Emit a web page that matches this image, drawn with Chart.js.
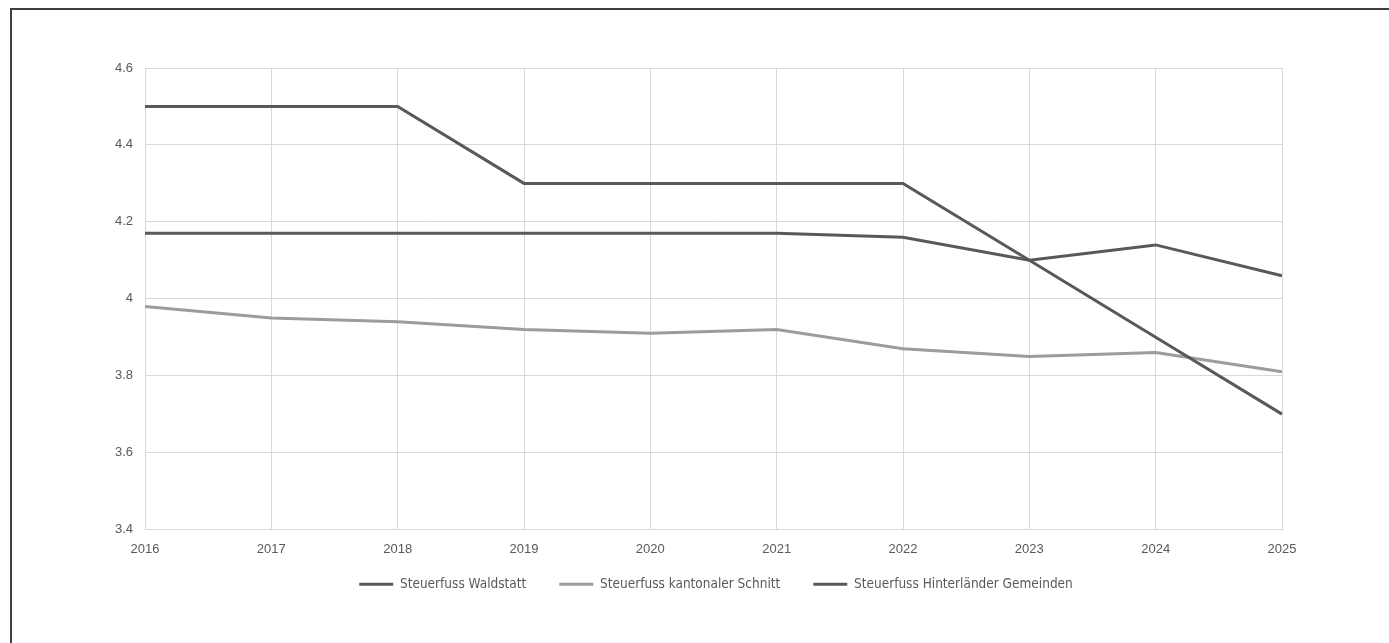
<!DOCTYPE html>
<html>
<head>
<meta charset="utf-8">
<title>Steuerfuss</title>
<script src="https://cdn.jsdelivr.net/npm/chart.js@4/dist/chart.umd.min.js"></script>
<style>
  html, body { margin: 0; padding: 0; background: #fff; }
  #wrap { position: relative; width: 1389px; height: 643px; overflow: hidden; }
  #frame { position: absolute; left: 10px; top: 8px; right: -10px; bottom: -10px;
           border-top: 2px solid #404040; border-left: 2px solid #404040; }
  canvas { position: absolute; left: 0; top: 0; }
</style>
</head>
<body>
<div id="wrap">
  <div id="frame"></div>
  <canvas id="chart" width="1389" height="643"></canvas>
</div>
<script>
// Years on the category axis
const years = ['2016', '2017', '2018', '2019', '2020', '2021', '2022', '2023', '2024', '2025'];

// Tax rate series
const waldstatt = [4.5, 4.5, 4.5, 4.3, 4.3, 4.3, 4.3, 4.1, 3.9, 3.7];
const kantonalerSchnitt = [3.98, 3.95, 3.94, 3.92, 3.91, 3.92, 3.87, 3.85, 3.86, 3.81];
const hinterlaender = [4.17, 4.17, 4.17, 4.17, 4.17, 4.17, 4.16, 4.1, 4.14, 4.06];

// Value axis range
const yMin = 3.4, yMax = 4.6, yStep = 0.2;

const tickFont = { family: "'Liberation Sans', Arial, sans-serif", size: 13 };
const legendFont = { family: "'DejaVu Sans Condensed', 'Liberation Sans', sans-serif", size: 13.5 };

const darkLine = '#595959';
const greyLine = '#9c9c9c';

// Centre the legend under the plot area and tuck it closer to the axis
const legendShift = {
  id: 'legendShift',
  afterLayout(chart) {
    const lg = chart.legend;
    if (!lg) return;
    const dx = 75, dy = -13;
    lg.left += dx; lg.right += dx;
    lg.top += dy; lg.bottom += dy;
  }
};

new Chart(document.getElementById('chart'), {
  type: 'line',
  data: {
    labels: years,
    datasets: [
      { label: 'Steuerfuss Waldstatt', data: waldstatt, borderColor: darkLine, backgroundColor: darkLine, borderWidth: 3 },
      { label: 'Steuerfuss kantonaler Schnitt', data: kantonalerSchnitt, borderColor: greyLine, backgroundColor: greyLine, borderWidth: 3 },
      { label: 'Steuerfuss Hinterländer Gemeinden', data: hinterlaender, borderColor: darkLine, backgroundColor: darkLine, borderWidth: 3 }
    ]
  },
  plugins: [legendShift],
  options: {
    responsive: false,
    animation: false,
    layout: { padding: { top: 68, right: 107, bottom: 29, left: 0 } },
    elements: {
      line: { tension: 0, borderCapStyle: 'butt' },
      point: { radius: 0, hoverRadius: 0 }
    },
    plugins: {
      tooltip: { enabled: false },
      legend: {
        position: 'bottom',
        labels: {
          usePointStyle: true,
          pointStyle: 'line',
          pointStyleWidth: 34,
          padding: 33,
          color: '#595959',
          font: legendFont
        }
      }
    },
    scales: {
      x: {
        offset: false,
        grid: { color: '#d9d9d9', lineWidth: 1, drawTicks: false },
        border: { color: '#d9d9d9' },
        ticks: { color: '#595959', font: tickFont, padding: 12, maxRotation: 0 },
        afterFit(scale) { scale.height = 28; }
      },
      y: {
        min: yMin,
        max: yMax,
        grid: { color: '#d9d9d9', lineWidth: 1, drawTicks: false },
        border: { display: false },
        ticks: {
          stepSize: yStep,
          color: '#595959',
          font: tickFont,
          padding: 12,
          callback: (v) => String(Math.round(v * 10) / 10)
        },
        afterFit(scale) { scale.width = 145; }
      }
    }
  }
});
</script>
</body>
</html>
